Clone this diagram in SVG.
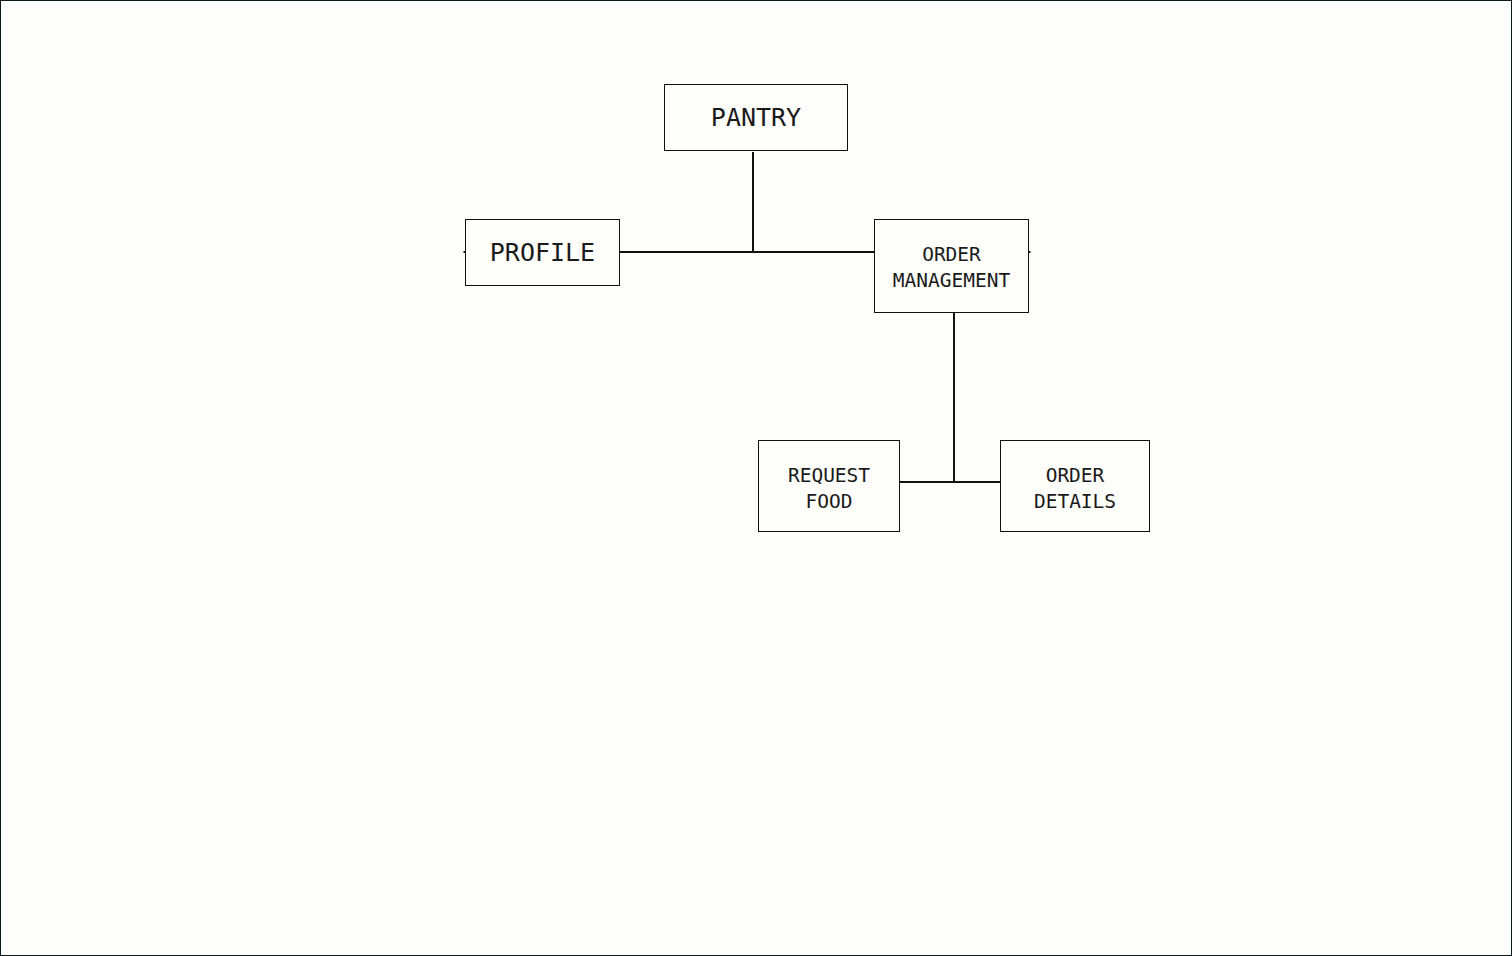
<svg xmlns="http://www.w3.org/2000/svg" width="1512" height="956" viewBox="0 0 1512 956">
<style>
.box{fill:#fefefa;stroke:#111;stroke-width:1}
.lbl{font-family:"DejaVu Sans Mono","Liberation Mono",monospace;fill:#1a1a1a;text-anchor:middle}
.big{font-size:25px}
.sm{font-size:19.5px}
.conn{stroke:#111;stroke-width:2;fill:none}
</style>
<rect x="0.5" y="0.5" width="1511" height="955" fill="#fefefa" stroke="#0b1a1f" stroke-width="1"/>
<g id="connectors">
<line class="conn" x1="753" y1="152" x2="753" y2="252"/>
<line class="conn" x1="620" y1="252" x2="874" y2="252"/>
<line class="conn" x1="954" y1="313" x2="954" y2="482"/>
<line class="conn" x1="900" y1="482" x2="1000" y2="482"/>
<line class="conn" x1="463.5" y1="252" x2="465.5" y2="252"/>
<line class="conn" x1="1028.5" y1="252" x2="1030.5" y2="252"/>
</g>
<g id="pantry">
<rect class="box" x="664.5" y="84.5" width="183" height="66"/>
<text class="lbl big" x="756" y="126">PANTRY</text>
</g>
<g id="profile">
<rect class="box" x="465.5" y="219.5" width="154" height="66"/>
<text class="lbl big" x="542.5" y="261">PROFILE</text>
</g>
<g id="order-management">
<rect class="box" x="874.5" y="219.5" width="154" height="93"/>
<text class="lbl sm" x="951.5" y="261">ORDER</text>
<text class="lbl sm" x="951.5" y="287">MANAGEMENT</text>
</g>
<g id="request-food">
<rect class="box" x="758.5" y="440.5" width="141" height="91"/>
<text class="lbl sm" x="829" y="482">REQUEST</text>
<text class="lbl sm" x="829" y="508">FOOD</text>
</g>
<g id="order-details">
<rect class="box" x="1000.5" y="440.5" width="149" height="91"/>
<text class="lbl sm" x="1075" y="482">ORDER</text>
<text class="lbl sm" x="1075" y="508">DETAILS</text>
</g>
</svg>
